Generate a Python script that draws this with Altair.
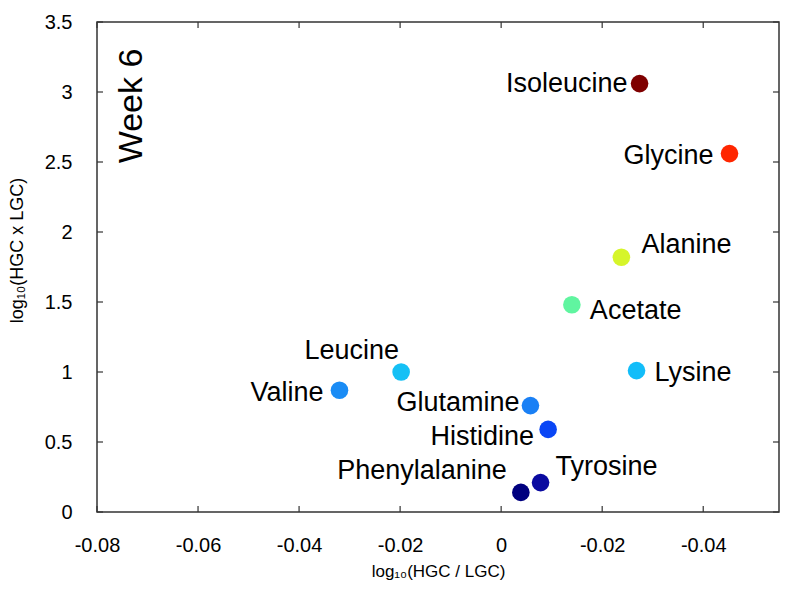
import altair as alt
import pandas as pd

names = ["Isoleucine", "Glycine", "Alanine", "Acetate", "Lysine", "Leucine",
         "Valine", "Glutamine", "Histidine", "Tyrosine", "Phenylalanine"]
x_vals = [0.0274, 0.0452, 0.0238, 0.0140, 0.0268, -0.0198,
          -0.0320, 0.0058, 0.0093, 0.0078, 0.0039]
y_vals = [3.06, 2.56, 1.82, 1.48, 1.01, 1.00,
          0.87, 0.76, 0.59, 0.21, 0.14]
colors = ["#7f0000", "#ff2600", "#d6f52a", "#60f5a0", "#12bdf9", "#15c0f5",
          "#1a8cf5", "#1a80f5", "#0a46f5", "#0a0aa0", "#00007f"]

x_ticks = [-0.08, -0.06, -0.04, -0.02, 0, 0.02, 0.04]
y_ticks = [0, 0.5, 1, 1.5, 2, 2.5, 3, 3.5]

# label placement styles: (align, dx, dy)
label_style = {
    "Isoleucine": ("right", -12, 0),
    "Glycine": ("right", -16, 2),
    "Alanine": ("left", 20, -12),
    "Acetate": ("left", 18, 6),
    "Lysine": ("left", 18, 2),
    "Leucine": ("right", -2, -21),
    "Valine": ("right", -16, 3),
    "Glutamine": ("right", -11, -3),
    "Histidine": ("right", -14, 8),
    "Tyrosine": ("left", 15, -16),
    "Phenylalanine": ("right", -14, -21),
}

W, H = 682, 490
FONT = "Liberation Sans"

df = pd.DataFrame({"name": names, "x": x_vals, "y": y_vals, "color": colors})
xt = pd.DataFrame({"v": x_ticks})
yt = pd.DataFrame({"v": y_ticks})

xscale = alt.Scale(domain=[-0.08, 0.055], nice=False, zero=False)
yscale = alt.Scale(domain=[0, 3.5], nice=False, zero=False)

xlabel_expr = "datum.value == 0 ? '0' : '-' + format(abs(datum.value), '.2f')"

points = alt.Chart(df).mark_circle(size=310, opacity=1).encode(
    x=alt.X("x:Q", scale=xscale,
            axis=alt.Axis(values=x_ticks, labelExpr=xlabel_expr, title="log₁₀(HGC / LGC)",
                          tickSize=0, domain=False, grid=False, labelPadding=23,
                          labelFlush=False, labelFontSize=20, labelFont=FONT, labelColor="black",
                          titleFontSize=17, titleFont=FONT, titleFontWeight="normal",
                          titleColor="black", titlePadding=8)),
    y=alt.Y("y:Q", scale=yscale,
            axis=alt.Axis(values=y_ticks, format="~g", title="log₁₀(HGC x LGC)",
                          tickSize=0, domain=False, grid=False, labelPadding=25,
                          labelFlush=False, labelFontSize=20, labelFont=FONT, labelColor="black",
                          titleFontSize=18, titleFont=FONT, titleFontWeight="normal",
                          titleColor="black", titleX=-80, titleY=228,
                          titleAlign="center", titleBaseline="middle")),
    color=alt.Color("color:N", scale=None),
)

layers = [points]
for n in names:
    al, dx, dy = label_style[n]
    layers.append(
        alt.Chart(df).transform_filter(alt.datum.name == n).mark_text(
            align=al, baseline="middle", dx=dx, dy=dy, fontSize=27, font=FONT, color="black"
        ).encode(x=alt.X("x:Q", scale=xscale), y=alt.Y("y:Q", scale=yscale), text="name:N")
    )

tick_len = 6
bottom_ticks = alt.Chart(xt).mark_rule(color="#333", strokeWidth=1.2).encode(
    x=alt.X("v:Q", scale=xscale), y=alt.value(H), y2=alt.value(H - tick_len))
top_ticks = alt.Chart(xt).mark_rule(color="#333", strokeWidth=1.2).encode(
    x=alt.X("v:Q", scale=xscale), y=alt.value(0), y2=alt.value(tick_len))
left_ticks = alt.Chart(yt).mark_rule(color="#333", strokeWidth=1.2).encode(
    y=alt.Y("v:Q", scale=yscale), x=alt.value(0), x2=alt.value(tick_len))
right_ticks = alt.Chart(yt).mark_rule(color="#333", strokeWidth=1.2).encode(
    y=alt.Y("v:Q", scale=yscale), x=alt.value(W), x2=alt.value(W - tick_len))

week = alt.Chart(pd.DataFrame({"t": ["Week 6"]})).mark_text(
    angle=270, align="center", baseline="middle", fontSize=34, font=FONT, color="black"
).encode(x=alt.value(35), y=alt.value(84), text="t:N")

chart = alt.layer(bottom_ticks, top_ticks, left_ticks, right_ticks, *layers, week).properties(
    width=W, height=H,
    autosize=alt.AutoSizeParams(type="none"),
    padding={"left": 89, "top": 14, "right": 1, "bottom": 70},
    background="white",
).configure_view(stroke="#333", strokeWidth=1.5)

chart.save("out.html", embed_options={"renderer": "svg", "actions": False})
